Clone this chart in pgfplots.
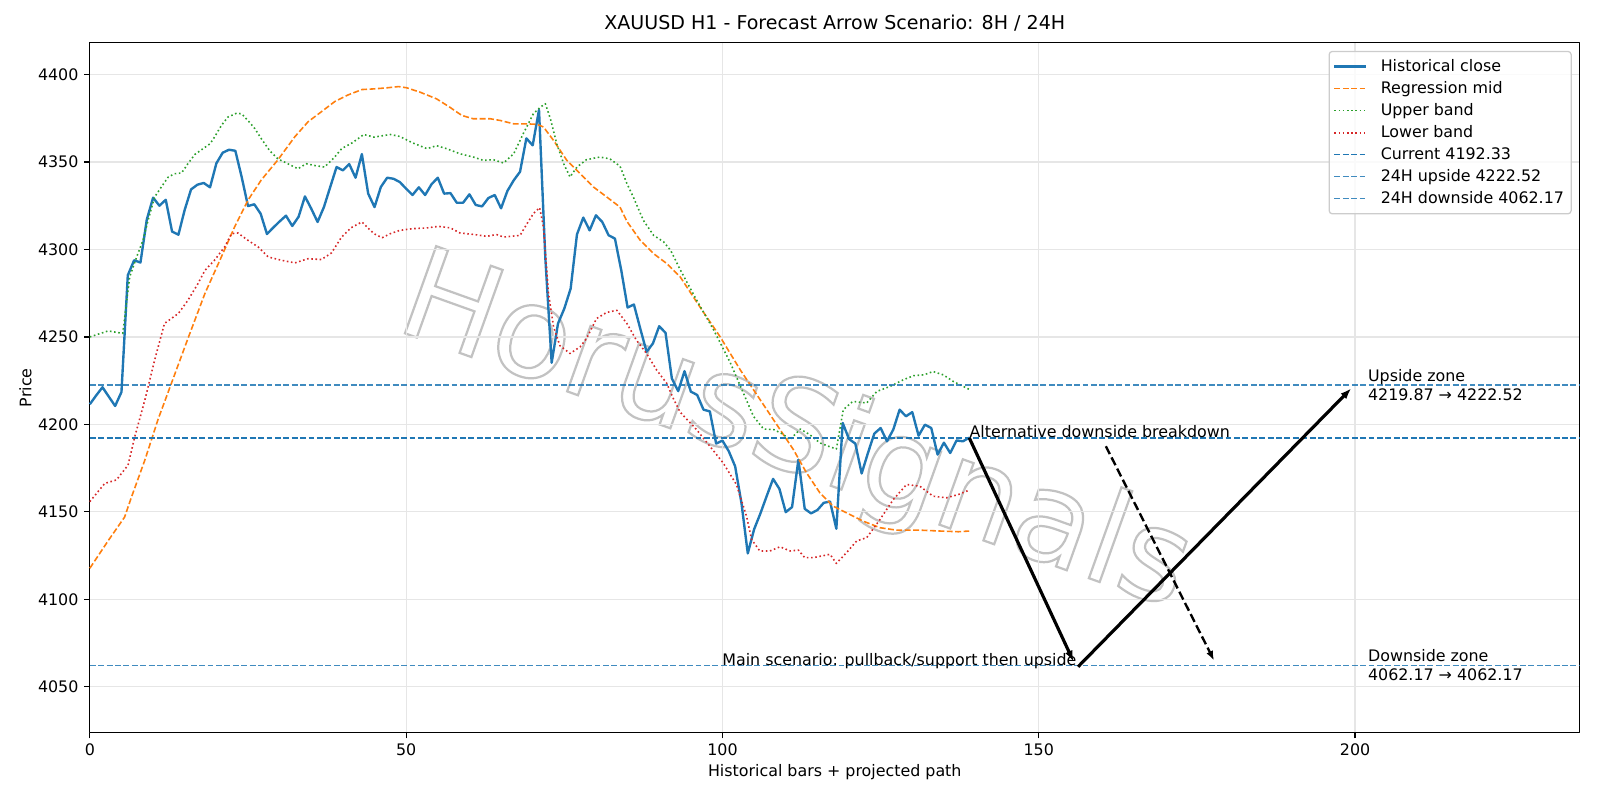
\documentclass[border=0pt]{standalone}
\usepackage{fontspec}
\setmainfont{DejaVu Sans}
\usepackage{pgfplots}
\pgfplotsset{compat=1.18}
\usetikzlibrary{arrows.meta}

\definecolor{c0}{HTML}{1F77B4}
\definecolor{c1}{HTML}{FF7F0E}
\definecolor{c2}{HTML}{2CA02C}
\definecolor{c3}{HTML}{D62728}
\definecolor{gridc}{HTML}{E6E6E6}
\definecolor{legedge}{HTML}{CCCCCC}
\definecolor{wm}{HTML}{C2C2C2}

\begin{document}
\begin{tikzpicture}
% hollow watermark behind the plot
\node[rotate=-19.7, text=wm, inner sep=0pt, font=\fontsize{80}{86}\selectfont]
  at (444.2pt,187.1pt)
  {\special{pdf:literal direct 1 Tr 1.4 w}HorusSignals\special{pdf:literal direct 0 Tr}};

\begin{axis}[
  at={(0pt,0pt)}, anchor=south west,
  width=938.6pt, height=434.6pt, scale only axis,
  xmin=0, xmax=235.5, ymin=4023.7, ymax=4418.1,
  xtick={0,50,100,150,200},
  ytick={4050,4100,4150,4200,4250,4300,4350,4400},
  scaled ticks=false,
  /pgf/number format/1000 sep={},
  /pgf/number format/assume math mode=true,
  tick align=outside, major tick length=3.5pt,
  xtick pos=lower, ytick pos=lower,
  tick style={black, line width=0.8pt},
  axis line style={black, line width=0.8pt},
  xticklabel style={anchor=base, inner sep=0pt, yshift=-11pt},
  yticklabel style={anchor=east, inner sep=0pt, xshift=-3.5pt},
  grid=major, major grid style={gridc, line width=0.8pt},
  clip=false,
  line join=round,
  legend cell align=left,
  legend image code/.code={\draw[#1] (0pt,0pt) -- (20pt,0pt);},
  legend style={at={(1,1)}, anchor=north east, xshift=-5pt, yshift=-5pt,
    draw=legedge, line width=0.8pt, rounded corners=2pt,
    fill=white, fill opacity=0.8, text opacity=1,
    inner xsep=2.5pt, inner ysep=3pt, row sep=0.8pt,
    font=\fontsize{10}{12}\selectfont,
    /tikz/every odd column/.append style={column sep=6.5pt}},
]

% historical closes, one per bar
\addplot[c0, line width=1.5pt] coordinates {
(0,4211.5) (1,4216.5) (2,4221.2) (3,4215.8) (4,4210.5) (5,4218.5) (6,4285.2) (7,4293.8)
(8,4292.5) (9,4317.0) (10,4329.6) (11,4325.0) (12,4328.4) (13,4310.2) (14,4308.4) (15,4322.7)
(16,4334.3) (17,4337.0) (18,4338.0) (19,4335.5) (20,4349.2) (21,4355.3) (22,4357.0) (23,4356.4)
(24,4341.4) (25,4324.8) (26,4325.8) (27,4320.4) (28,4308.8) (29,4312.5) (30,4316.0) (31,4319.3)
(32,4313.4) (33,4318.7) (34,4330.3) (35,4323.3) (36,4315.7) (37,4324.2) (38,4335.7) (39,4347.1)
(40,4345.2) (41,4348.8) (42,4341.0) (43,4354.5) (44,4331.9) (45,4324.2) (46,4335.7) (47,4341.0)
(48,4340.4) (49,4338.5) (50,4334.7) (51,4331.1) (52,4335.5) (53,4331.1) (54,4337.2) (55,4341.0)
(56,4331.9) (57,4332.2) (58,4326.7) (59,4326.7) (60,4331.5) (61,4325.4) (62,4324.6) (63,4329.4)
(64,4331.1) (65,4323.5) (66,4333.4) (67,4339.5) (68,4344.4) (69,4363.5) (70,4359.5) (71,4379.8)
(72,4295.0) (73,4235.2) (74,4257.6) (75,4266.2) (76,4277.6) (77,4308.6) (78,4318.2) (79,4310.9)
(80,4319.5) (81,4315.7) (82,4308.1) (83,4306.2) (84,4288.1) (85,4266.8) (86,4268.5) (87,4254.8)
(88,4241.5) (89,4246.2) (90,4256.1) (91,4252.3) (92,4226.2) (93,4219.0) (94,4230.4) (95,4218.7)
(96,4216.8) (97,4208.4) (98,4207.4) (99,4189.0) (100,4190.7) (101,4184.6) (102,4176.0) (103,4155.0)
(104,4126.2) (105,4140.0) (106,4149.1) (107,4159.1) (108,4168.8) (109,4163.1) (110,4149.8) (111,4152.7)
(112,4179.8) (113,4151.7) (114,4149.1) (115,4151.0) (116,4155.1) (117,4155.9) (118,4140.3) (119,4200.8)
(120,4191.6) (121,4189.0) (122,4171.9) (123,4183.7) (124,4194.7) (125,4197.9) (126,4190.3) (127,4197.0)
(128,4208.4) (129,4204.6) (130,4207.0) (131,4193.5) (132,4199.8) (133,4197.9) (134,4182.7) (135,4189.5)
(136,4183.6) (137,4190.8) (138,4190.3) (139,4192.33)
};
\addlegendentry{Historical close}

% regression midline
\addplot[c1, line width=1pt, dash pattern=on 3.7pt off 1.6pt] coordinates {
(0,4117.7) (3,4134.0) (5.5,4147.0) (6.6,4158.6) (8.7,4179.6) (10.8,4203.0) (13,4224.5)
(15.5,4249.0) (18.2,4274.9) (20.8,4295.8) (22.9,4313.0) (25,4328.2) (27.1,4339.7)
(29.7,4351.1) (32.4,4364.4) (34.5,4373.0) (36.6,4378.7) (38.7,4384.5) (40.8,4388.3)
(43,4391.4) (45,4391.8) (47,4392.4) (48.8,4393.1) (50.1,4392.4) (52.2,4389.9) (54.8,4386.1)
(56.9,4381.3) (58.8,4376.6) (60.6,4374.7) (63.3,4374.7) (64.9,4373.7) (67,4371.8)
(69.1,4371.8) (70.7,4371.5) (71.7,4370.0) (73.3,4362.3) (75.4,4350.9) (77.5,4343.3)
(79.6,4335.7) (81.7,4330.0) (83.8,4324.2) (84.9,4316.0) (87,4305.2) (89.1,4297.6)
(91.2,4291.9) (93.3,4284.4) (96.4,4267.3) (99.6,4250.2) (102.8,4231.2) (104.9,4219.8)
(107,4208.4) (109.1,4197.0) (111.2,4185.6) (113.3,4172.2) (115.4,4160.8) (117.5,4153.2)
(119.6,4149.4) (122.2,4144.7) (124.9,4140.9) (127.5,4139.5) (131.2,4139.5) (134.4,4139.0)
(137.3,4138.6) (139,4139.0)
};
\addlegendentry{Regression mid}

% upper channel band
\addplot[c2, line width=1pt, dash pattern=on 1pt off 1.65pt] coordinates {
(0,4250.0) (2.9,4253.4) (5.2,4252.0) (6.3,4284.3) (7.4,4295.7) (8.4,4305.2) (9.2,4316.6)
(10.25,4330.0) (11.3,4335.7) (12.4,4341.4) (13.4,4343.3) (14.5,4343.7) (15.5,4349.0)
(16.6,4354.3) (17.9,4357.6) (19,4360.4) (19.7,4364.2) (20.8,4370.9) (21.8,4375.6)
(23.2,4377.9) (24,4377.5) (25,4373.7) (26.1,4369.0) (27.1,4363.3) (28.4,4356.6)
(29.7,4351.8) (31.3,4349.0) (32.9,4346.1) (34.2,4349.0) (35.5,4348.0) (37.1,4347.1)
(38.7,4352.8) (39.8,4357.6) (41.5,4361.0) (43.3,4365.7) (44.9,4364.2) (47.5,4365.7)
(49,4364.6) (51.1,4360.8) (53.3,4357.6) (54.8,4359.3) (56.4,4357.6) (58.5,4354.7)
(60.6,4352.8) (62.2,4350.9) (63.8,4351.3) (65.4,4349.4) (67,4354.7) (68.5,4366.1)
(70.1,4377.5) (71.2,4381.3) (72,4383.3) (72.8,4374.7) (73.8,4360.4) (74.9,4349.0)
(75.9,4341.4) (77,4347.1) (78.5,4351.3) (80.6,4352.8) (82.2,4351.8) (83.8,4347.6)
(84.9,4337.6) (85.9,4330.0) (87.5,4316.6) (89.1,4308.1) (90.7,4304.3) (91.8,4299.5)
(93.3,4288.5) (95.9,4271.1) (98.6,4254.0) (101.2,4235.5) (103.3,4217.9) (104.9,4204.6)
(106.5,4197.3) (108.1,4197.0) (109.4,4194.7) (110.7,4191.3) (112.3,4197.3) (113.8,4194.1)
(115.4,4189.4) (117,4187.1) (118,4185.9) (119.1,4208.4) (120.6,4213.1) (122.8,4212.2)
(124.4,4218.8) (126.5,4221.7) (128.6,4225.5) (130.2,4227.8) (131.8,4228.3) (133.3,4230.2)
(134.9,4228.3) (136.5,4224.5) (139,4220.0)
};
\addlegendentry{Upper band}

% lower channel band
\addplot[c3, line width=1pt, dash pattern=on 1pt off 1.65pt] coordinates {
(0,4155.8) (2.35,4166.2) (4.2,4168.2) (6.04,4176.7) (7.1,4192.9) (8.7,4213.9) (10.25,4236.8)
(11.8,4257.7) (14,4263.4) (15.5,4270.9) (17.1,4280.5) (18.2,4288.1) (19.7,4293.8)
(21.3,4301.4) (22.4,4309.0) (23.4,4309.4) (25,4305.2) (26.6,4301.4) (28.2,4295.7)
(30.3,4293.8) (32.4,4292.3) (34.5,4294.7) (36.6,4294.2) (38.2,4298.0) (39.8,4307.1)
(41.3,4312.4) (43,4315.7) (44.9,4309.0) (46.2,4306.7) (47.5,4309.0) (49,4310.9)
(51.1,4311.9) (53.3,4312.3) (55.1,4313.2) (57,4312.3) (58.5,4309.4) (60.6,4308.6)
(62.7,4307.5) (64.3,4308.5) (65.4,4307.1) (68,4308.0) (69.1,4314.7) (70.1,4320.4)
(71.1,4323.9) (71.7,4312.8) (72.5,4274.8) (73.3,4255.7) (74.3,4245.0) (75.9,4240.5)
(77.5,4244.3) (78.5,4249.0) (80.1,4260.5) (81.7,4264.0) (83.3,4265.2) (84.9,4257.6)
(86.4,4248.1) (88,4240.5) (89.6,4231.0) (91.2,4223.4) (92.2,4215.0) (93.3,4207.0)
(95.9,4197.0) (98,4187.5) (100.1,4178.0) (102.2,4165.6) (103.8,4147.5) (104.6,4134.2)
(105.9,4127.6) (107.5,4127.6) (109.1,4130.0) (110.7,4127.6) (112,4128.1) (113,4123.8)
(114.4,4123.8) (117,4125.7) (118,4120.5) (119.6,4126.6) (121.2,4133.3) (122.8,4135.2)
(124.9,4145.6) (127,4157.0) (129.1,4165.6) (131.2,4164.6) (133.3,4158.9) (135.4,4158.0)
(137.3,4159.9) (139,4162.4)
};
\addlegendentry{Lower band}

% reference levels
\addplot[c0, line width=1pt, dash pattern=on 3.7pt off 1.6pt] coordinates {(0,4192.33) (235.5,4192.33)};
\addlegendentry{Current 4192.33}
\addplot[c0, opacity=0.85, line width=1pt, dash pattern=on 3.7pt off 1.6pt] coordinates {(0,4222.52) (235.5,4222.52)};
\addlegendentry{24H upside 4222.52}
\addplot[c0, opacity=0.85, line width=1pt, dash pattern=on 3.7pt off 1.6pt] coordinates {(0,4062.17) (235.5,4062.17)};
\addlegendentry{24H downside 4062.17}

% projected path arrows
\draw[black, line width=2pt, -{Latex[length=7pt,width=5pt]}]
  (axis cs:139,4192.33) -- (axis cs:155.5,4064.3);
\draw[black, line width=2pt, -{Latex[length=7pt,width=5pt]}]
  (axis cs:156.2,4061.4) -- (axis cs:199.4,4220.6);
\draw[black, line width=1.5pt, dash pattern=on 5.5pt off 2.4pt, -{Latex[length=6pt,width=4.5pt]}]
  (axis cs:160.6,4187.5) -- (axis cs:177.7,4065.0);

% annotation texts
\node[anchor=base west, inner sep=0pt] at (axis cs:139,4192.6) {Alternative downside breakdown};
\node[anchor=base east, inner sep=0pt] at (axis cs:156,4062.17) {Main scenario: pullback/support then upside};
\node[anchor=west, align=left, inner sep=0pt] at (axis cs:202,4222.52) {Upside zone\\4219.87 → 4222.52};
\node[anchor=west, align=left, inner sep=0pt] at (axis cs:202,4062.17) {Downside zone\\4062.17 → 4062.17};

% title and axis labels
\node[anchor=base, inner sep=0pt, font=\fontsize{12}{14.4}\selectfont]
  at (rel axis cs:0.5,1) [yshift=8.5pt] {XAUUSD H1 - Forecast Arrow Scenario: 8H / 24H};
\node[anchor=base, inner sep=0pt] at (rel axis cs:0.5,0) [yshift=-27.6pt] {Historical bars + projected path};
\node[xshift=-40.5pt, rotate=90, anchor=center, inner sep=0pt] at (rel axis cs:0,0.5) {Price};
\end{axis}
\pgfresetboundingbox
\useasboundingbox (-56.6pt,-42.4pt) rectangle (951.4pt,461.6pt);
\end{tikzpicture}
\end{document}
